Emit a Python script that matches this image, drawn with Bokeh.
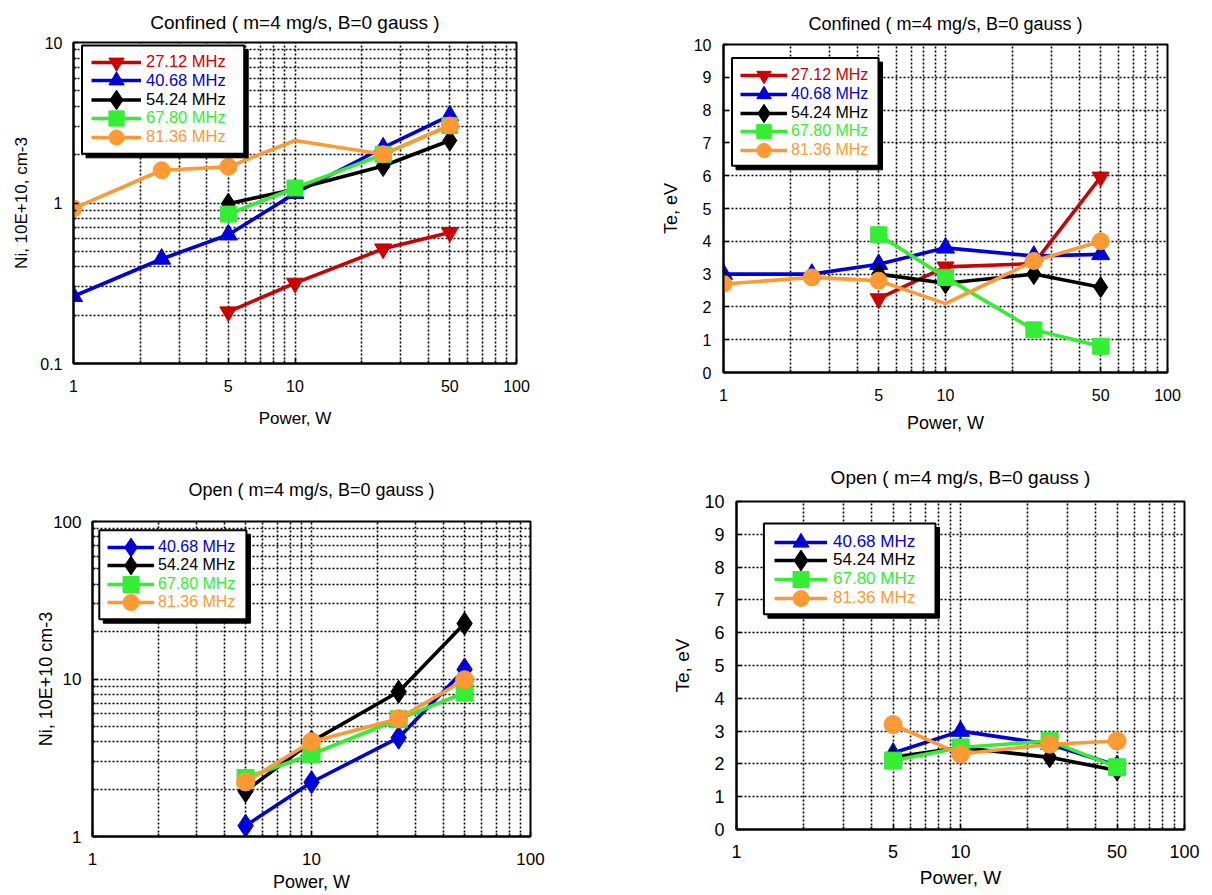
from bokeh.plotting import figure
from bokeh.layouts import row, column
from bokeh.models import (Range1d, FixedTicker, CustomJSTickFormatter, Legend,
                          LegendItem, BoxAnnotation)
from bokeh.embed import file_html
from bokeh.resources import INLINE

# ---------------- data ----------------
power_full = [1, 2.5, 5, 10, 25, 50]
power_hi = [5, 10, 25, 50]

labels_conf = ["27.12 MHz", "40.68 MHz", "54.24 MHz", "67.80 MHz", "81.36 MHz"]
labels_open = ["40.68 MHz", "54.24 MHz", "67.80 MHz", "81.36 MHz"]

# Confined, ion density (10E+10 cm-3)
ni_conf_27 = [0.21, 0.317, 0.518, 0.656]             # power_hi
ni_conf_40 = [0.262, 0.448, 0.634, 1.15, 2.21, 3.5]  # power_full
ni_conf_54 = [0.99, 1.22, 1.70, 2.45]                # power_hi
ni_conf_67 = [0.853, 1.24, 2.01, 3.04]               # power_hi
ni_conf_81 = [0.925, 1.6, 1.68, 2.45, 2.01, 3.04]    # power_full
ni_conf_81_marked = [1, 1, 1, 0, 1, 1]

# Confined, electron temperature (eV)
te_conf_27 = [2.25, 3.22, 3.32, 5.96]             # power_hi
te_conf_40 = [3.0, 3.0, 3.3, 3.8, 3.55, 3.6]      # power_full
te_conf_54 = [3.0, 2.72, 3.0, 2.6]                # power_hi
te_conf_67 = [4.2, 2.9, 1.3, 0.8]                 # power_hi
te_conf_81 = [2.7, 2.9, 2.8, 2.1, 3.4, 4.0]       # power_full
te_conf_81_marked = [1, 1, 1, 0, 1, 1]

# Open, ion density
ni_open_40 = [1.17, 2.21, 4.24, 11.5]
ni_open_54 = [1.94, 4.0, 8.3, 22.5]
ni_open_67 = [2.35, 3.33, 5.55, 8.2]
ni_open_81 = [2.22, 4.0, 5.6, 9.9]

# Open, electron temperature
te_open_40 = [2.33, 3.0, 2.6, 1.95]
te_open_54 = [2.2, 2.5, 2.2, 1.8]
te_open_67 = [2.1, 2.5, 2.7, 1.9]
te_open_81 = [3.2, 2.3, 2.6, 2.7]

x_labels_125 = [1, 5, 10, 50, 100]
x_labels_dec = [1, 10, 100]
ni_conf_ticks = [0.1, 1, 10]
ni_open_ticks = [1, 10, 100]
te_ticks = list(range(0, 11))

RED, BLUE, BLACK, GREEN, ORANGE = "#CC0000", "#0000DD", "#000000", "#33EE33", "#FF9933"
FONT = "Liberation Sans"


def log_minors(lo_exp, hi_exp):
    return [m * 10.0 ** k for k in range(lo_exp, hi_exp) for m in range(2, 10)]


def make_fig(w, h, borders, y_log, y_range, title, tsize, tstand):
    left, right, top, bottom = borders
    p = figure(width=w, height=h, x_axis_type="log",
               y_axis_type="log" if y_log else "linear",
               x_range=Range1d(1, 100), y_range=Range1d(*y_range),
               output_backend="svg", toolbar_location=None,
               min_border_left=left, min_border_right=right,
               min_border_top=top, min_border_bottom=bottom,
               title=title)
    p.title.align = "center"
    p.title.text_font = FONT
    p.title.text_font_size = tsize
    p.title.text_font_style = "normal"
    p.title.text_color = "black"
    if "standoff" in p.title.properties():
        p.title.standoff = tstand
    p.outline_line_color = "black"
    p.outline_line_width = 2
    p.outline_line_alpha = 1
    p.background_fill_color = "white"
    p.border_fill_color = "white"
    for g in (p.xgrid, p.ygrid):
        g.grid_line_color = "black"
        g.grid_line_dash = "2 2"
        g.grid_line_width = 1.6
        g.minor_grid_line_color = "black"
        g.minor_grid_line_dash = "2 2"
        g.minor_grid_line_width = 1.6
    for ax in (p.xaxis[0], p.yaxis[0]):
        ax.axis_line_width = 2
        ax.major_tick_in = 5
        ax.major_tick_out = 0
        ax.minor_tick_in = 3
        ax.minor_tick_out = 0
        ax.major_tick_line_width = 1.5
        ax.minor_tick_line_width = 1.5
        ax.axis_label_text_font_style = "normal"
        ax.major_label_text_color = "black"
        ax.axis_label_text_color = "black"
    return p


def set_ticks(p, dim, ticks, minors, size, lstandoff, label, lsize, astandoff):
    t = FixedTicker(ticks=ticks, minor_ticks=minors)
    ax = p.xaxis[0] if dim == "x" else p.yaxis[0]
    grid = p.xgrid[0] if dim == "x" else p.ygrid[0]
    ax.ticker = t
    grid.ticker = t
    ax.formatter = CustomJSTickFormatter(code="return String(tick);")
    ax.major_label_text_font = FONT
    ax.major_label_text_font_size = size
    ax.major_label_standoff = lstandoff
    ax.axis_label = label
    ax.axis_label_text_font = FONT
    ax.axis_label_text_font_size = lsize
    ax.axis_label_standoff = astandoff


def series(p, xs, ys, color, marker, size, marked=None):
    ln = p.line(xs, ys, line_color=color, line_width=3.6)
    if marked is None:
        mx, my = xs, ys
    else:
        mx = [x for x, m in zip(xs, marked) if m]
        my = [y for y, m in zip(ys, marked) if m]
    sc = p.scatter(mx, my, marker=marker, size=size, fill_color=color, line_color=color)
    return [ln, sc]


def add_legend(p, entries, box, glyph_x, glyph_w, first_c, step, standoff, fsize, gh):
    l, r, t, b = box
    units = dict(left_units="screen", right_units="screen", top_units="screen", bottom_units="screen")
    p.add_layout(BoxAnnotation(left=l + 4, right=r + 4, top=t - 4, bottom=b - 4,
                               fill_color="black", fill_alpha=1, line_color="black",
                               line_alpha=1, line_width=1, level="annotation", **units))
    p.add_layout(BoxAnnotation(left=l, right=r, top=t, bottom=b,
                               fill_color="white", fill_alpha=1, line_color="black",
                               line_alpha=1, line_width=2, level="annotation", **units))
    for i, (label, color, rends) in enumerate(entries):
        yc = first_c - i * step
        # diamonds are drawn narrower by Bokeh, so give them a taller legend cell
        g = int(gh * 1.3) if rends[1].glyph.marker == "diamond" else int(gh)
        lg = Legend(items=[LegendItem(label=label, renderers=rends)],
                    location=(glyph_x, yc - g / 2), glyph_width=int(round(glyph_w)),
                    glyph_height=g, label_standoff=int(round(standoff)),
                    label_text_color=color, label_text_font=FONT,
                    label_text_font_size=fsize, padding=0, margin=0, spacing=0,
                    border_line_color=None, background_fill_alpha=0, label_height=g)
        p.add_layout(lg)


TITLE_CONF = "Confined ( m=4 mg/s, B=0 gauss )"
TITLE_OPEN = "Open ( m=4 mg/s, B=0 gauss )"
MINOR_125 = [v for v in log_minors(0, 2) if v not in x_labels_125]

# ---------------- panel 1: confined Ni ----------------
p1 = make_fig(600, 450, (73, 84, 41, 87), True, (0.1, 10), TITLE_CONF, "19px", 19)
set_ticks(p1, "x", x_labels_125, MINOR_125, "16px", 16, "Power, W", "17px", 14)
set_ticks(p1, "y", ni_conf_ticks, log_minors(-1, 1), "16px", 11, "Ni, 10E+10, cm-3", "17px", 6)
r1 = [
    series(p1, power_hi, ni_conf_27, RED, "inverted_triangle", 17),
    series(p1, power_full, ni_conf_40, BLUE, "triangle", 18),
    series(p1, power_hi, ni_conf_54, BLACK, "diamond", 21),
    series(p1, power_hi, ni_conf_67, GREEN, "square", 16),
    series(p1, power_full, ni_conf_81, ORANGE, "circle", 17, ni_conf_81_marked),
]
add_legend(p1, list(zip(labels_conf, [RED, BLUE, BLACK, GREEN, ORANGE], r1)),
           (8.5, 170.7, 318, 209.7), 18, 50, 301.3, 18.75, 5, "16.5px", 38)

# ---------------- panel 2: confined Te ----------------
p2 = make_fig(611, 450, (123, 44, 43, 78), False, (0, 10), TITLE_CONF, "18px", 22)
set_ticks(p2, "x", x_labels_125, MINOR_125, "16px", 16, "Power, W", "18px", 9)
set_ticks(p2, "y", te_ticks, [], "16px", 12, "Te, eV", "18px", 10)
r2 = [
    series(p2, power_hi, te_conf_27, RED, "inverted_triangle", 17),
    series(p2, power_full, te_conf_40, BLUE, "triangle", 18),
    series(p2, power_hi, te_conf_54, BLACK, "diamond", 21),
    series(p2, power_hi, te_conf_67, GREEN, "square", 16),
    series(p2, power_full, te_conf_81, ORANGE, "circle", 17, te_conf_81_marked),
]
add_legend(p2, list(zip(labels_conf, [RED, BLUE, BLACK, GREEN, ORANGE], r2)),
           (8.5, 155, 314.4, 206.7), 17, 47, 297, 18.75, 4, "16px", 36)

# ---------------- panel 3: open Ni ----------------
p3 = make_fig(600, 444, (92, 70, 71, 55), True, (1, 100), TITLE_OPEN, "18px", 43)
set_ticks(p3, "x", x_labels_dec, log_minors(0, 2), "17px", 16, "Power, W", "18px", 4)
set_ticks(p3, "y", ni_open_ticks, log_minors(0, 2), "17px", 11, "Ni, 10E+10 cm-3", "18px", -6)
r3 = [
    series(p3, power_hi, ni_open_40, BLUE, "diamond", 23),
    series(p3, power_hi, ni_open_54, BLACK, "diamond", 23),
    series(p3, power_hi, ni_open_67, GREEN, "square", 17),
    series(p3, power_hi, ni_open_81, ORANGE, "circle", 18),
]
add_legend(p3, list(zip(labels_open, [BLUE, BLACK, GREEN, ORANGE], r3)),
           (6.8, 153.9, 306.3, 217.3), 15, 47, 289, 18.3, 4, "16px", 40)

# ---------------- panel 4: open Te ----------------
p4 = make_fig(611, 444, (136, 27, 50, 65), False, (0, 10), TITLE_OPEN, "19px", 28)
set_ticks(p4, "x", x_labels_125, MINOR_125, "18px", 15, "Power, W", "19px", 6)
set_ticks(p4, "y", te_ticks, [], "18px", 12, "Te, eV", "19px", 8)
r4 = [
    series(p4, power_hi, te_open_40, BLUE, "triangle", 18),
    series(p4, power_hi, te_open_54, BLACK, "diamond", 21),
    series(p4, power_hi, te_open_67, GREEN, "square", 17),
    series(p4, power_hi, te_open_81, ORANGE, "circle", 18),
]
add_legend(p4, list(zip(labels_open, [BLUE, BLACK, GREEN, ORANGE], r4)),
           (27.4, 199, 306, 215.3), 38, 53, 287.3, 18.7, 6, "17px", 40)

layout = column(row(column(p1), column(p2)), row(column(p3), column(p4)))
open("out.html", "w").write(file_html(layout, INLINE))
